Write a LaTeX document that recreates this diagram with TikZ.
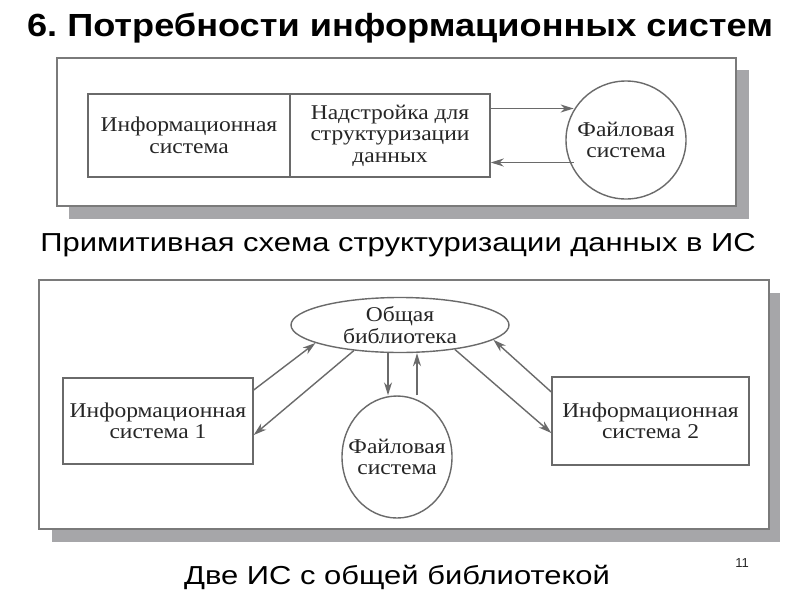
\documentclass[tikz,border=0pt]{standalone}
\usepackage{fontspec}
\setmainfont{Liberation Sans}
\newfontfamily\capfont[FakeStretch=1.19]{Liberation Sans}
\newfontfamily\headfont[FakeStretch=1.13]{Liberation Sans}
\newfontfamily\diafont[FakeStretch=1.12]{Liberation Serif}
\usetikzlibrary{arrows.meta,shapes.geometric}
\definecolor{linegray}{HTML}{6A6A6A}
\definecolor{framegray}{HTML}{7A7A7A}
\definecolor{shadowgray}{HTML}{A6A6A9}
\definecolor{textgray}{HTML}{262626}

\begin{document}
\begin{tikzpicture}[x=1pt,y=-1pt,
    box/.style={draw=linegray,line width=1.4pt,text=textgray,align=center,
      inner sep=0pt,font=\diafont\fontsize{21}{21.5}\selectfont},
    fsys/.style={box,ellipse,inner xsep=-20pt},
    arr/.style={draw=linegray,line width=1.4pt,-{Stealth[length=13pt,width=8pt,inset=4pt]}},
    panel/.style={draw=framegray,line width=2.5pt,fill=white},
    shade/.style={fill=shadowgray}]
  \useasboundingbox (0,0) rectangle (800,600);
  % title
  \node[font=\headfont\bfseries\fontsize{32}{34}\selectfont] (title) at (400,28)
    {6.\ Потребности информационных систем};
  % primitive scheme
  \fill[shade] (69,70) rectangle (749,219);
  \draw[panel] (57,58) rectangle (736,206);
  \draw
    (189,135.5) node[box,minimum width=202pt,minimum height=83pt] (is){Информационная\\система}
    (390,135.5) node[box,minimum width=200pt,minimum height=83pt] (ext){Надстройка для\\структуризации\\данных}
    (626,140) node[fsys,minimum width=120pt,minimum height=118pt] (fs){Файловая\\система};
  \begin{scope}[arr]
    \draw ([yshift=27pt]ext.east) to ([yshift=27pt]ext.east -| fs.150);
    \draw ([yshift=-27pt]ext.east -| fs.210) to ([yshift=-27pt]ext.east);
  \end{scope}
  \node[font=\capfont\fontsize{26}{28}\selectfont] (cap1) at (398,245)
    {Примитивная схема структуризации данных в ИС};
  % two systems with a shared library
  \fill[shade] (52,293) rectangle (780,542);
  \draw[panel] (39,280) rectangle (769,529);
  \draw
    (400,325) node[fsys,minimum width=218pt,minimum height=55pt] (lib){Общая\\библиотека}
    (158,421) node[box,minimum width=190pt,minimum height=86pt] (is1){Информационная\\система 1}
    (650.5,421) node[box,minimum width=197pt,minimum height=88pt] (is2){Информационная\\система 2}
    (397,457) node[fsys,minimum width=110pt,minimum height=122pt] (fs2){Файловая\\система};
  \begin{scope}[arr]
    \draw ([yshift=31pt]is1.east) to (lib.192);
    \draw (lib.209) to ([yshift=-14pt]is1.east);
    \draw (lib.336) to ([yshift=-12pt]is2.west);
    \draw ([yshift=29pt]is2.west) to (lib.351);
    \draw ([xshift=-12pt]lib.south) to ([xshift=-12pt]lib.south |- fs2.north);
    \draw ([xshift=17pt]lib.south |- fs2.north) to ([xshift=17pt]lib.south);
  \end{scope}
  \node[font=\capfont\fontsize{26}{28}\selectfont] (cap2) at (397,577)
    {Две ИС с общей библиотекой};
  \node[font=\fontsize{13}{14}\selectfont,text=textgray] (page) at (742,563) {11};
\end{tikzpicture}
\end{document}
